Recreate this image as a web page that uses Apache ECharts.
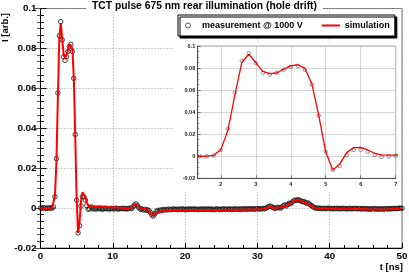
<!DOCTYPE html>
<html><head><meta charset="utf-8">
<script src="https://cdn.jsdelivr.net/npm/echarts@6/dist/echarts.min.js"></script>
<style>html,body{margin:0;padding:0;background:#fff}#c{width:409px;height:276px}</style>
</head><body><div id="c"></div>
<script>
// sampling step of the waveform in ns (samples start at t = 0)
const sampleStepNs = 0.2;
// measured current, one value per sample (t = 0 .. 50 ns)
const measurement = [
 0.0001,-0.0001,0.0002,0.0000,-0.0002,0.0001,0.0000,
 0.0000,0.0000,0.0006,0.0057,0.0248,0.0577,0.0864,0.0934,0.0843,0.0758,
 0.0740,0.0758,0.0785,0.0810,0.0820,0.0785,0.0650,0.0369,0.0040,-0.0124,
 -0.0088,0.0010,0.0057,0.0057,0.0040,0.0012,-0.0006,-0.0003,0.0006,
 -0.0004,-0.0002,-0.0005,-0.0003,0.0000,-0.0004,-0.0002,-0.0006,-0.0003,-0.0001,
 -0.0004,-0.0002,-0.0005,-0.0001,-0.0003,-0.0004,0.0000,-0.0003,-0.0005,-0.0002,
 -0.0003,-0.0001,-0.0004,-0.0002,-0.0005,-0.0002,0.0000,-0.0003,0.0006,0.0015,
 0.0021,0.0012,0.0002,-0.0006,-0.0004,-0.0009,-0.0006,-0.0011,-0.0008,-0.0013,
 -0.0022,-0.0035,-0.0040,-0.0030,-0.0018,-0.0012,-0.0015,-0.0009,-0.0012,-0.0007,
 -0.0010,-0.0006,-0.0009,-0.0005,-0.0008,-0.0006,-0.0004,-0.0007,-0.0005,-0.0008,
 -0.0005,-0.0007,-0.0004,-0.0006,-0.0008,-0.0005,-0.0007,-0.0004,-0.0006,-0.0005,
 -0.0007,-0.0004,-0.0006,-0.0008,-0.0005,-0.0006,-0.0004,-0.0007,-0.0005,-0.0006,
 -0.0004,-0.0007,-0.0005,-0.0006,-0.0008,-0.0005,-0.0004,-0.0006,-0.0007,-0.0005,
 -0.0006,-0.0004,-0.0007,-0.0005,-0.0006,-0.0004,-0.0007,-0.0005,-0.0006,-0.0004,
 -0.0005,-0.0007,-0.0004,-0.0006,-0.0005,-0.0003,-0.0006,-0.0004,-0.0005,-0.0003,
 -0.0005,-0.0003,-0.0006,-0.0004,-0.0002,-0.0005,-0.0003,-0.0004,-0.0001,-0.0003,
 0.0000,0.0004,0.0008,0.0010,0.0006,0.0002,-0.0002,0.0000,0.0004,0.0002,
 0.0000,0.0006,0.0012,0.0016,0.0011,0.0018,0.0024,0.0022,0.0030,0.0036,
 0.0040,0.0038,0.0042,0.0040,0.0036,0.0032,0.0034,0.0028,0.0024,0.0026,
 0.0020,0.0014,0.0010,0.0004,0.0001,-0.0001,0.0000,-0.0002,-0.0001,-0.0003,
 -0.0001,-0.0003,-0.0002,0.0000,-0.0003,-0.0001,-0.0004,-0.0002,-0.0003,-0.0001,
 -0.0003,-0.0002,-0.0004,-0.0001,-0.0003,-0.0002,-0.0004,-0.0003,-0.0001,-0.0004,
 -0.0002,-0.0003,-0.0001,-0.0004,-0.0002,-0.0003,-0.0005,-0.0002,-0.0004,-0.0003,
 -0.0005,-0.0003,-0.0006,-0.0004,-0.0002,-0.0005,-0.0003,-0.0006,-0.0004,-0.0005,
 -0.0003,-0.0006,-0.0004,-0.0002,-0.0005,-0.0003,-0.0004,-0.0002,-0.0003,-0.0001,
 -0.0003,-0.0002,0.0000,-0.0002,-0.0001
];
// simulated current, same sampling
const simulation = [
 0,0,0,0,0,0,0,
 0.0000,0.0001,0.0008,0.0060,0.0230,0.0550,0.0850,0.0925,0.0850,0.0770,
 0.0750,0.0755,0.0790,0.0820,0.0830,0.0800,0.0660,0.0370,0.0040,-0.0124,
 -0.0072,0.0033,0.0079,0.0080,0.0057,0.0027,0.0012,0.0010,0.0010,
 0.0010,0.0009,0.0010,0.0008,0.0009,0.0008,0.0007,0.0008,0.0006,0.0007,
 0.0006,0.0005,0.0006,0.0004,0.0005,0.0003,0.0004,0.0003,0.0002,0.0003,
 0.0002,0.0001,0.0002,0.0000,0.0001,0.0000,0.0001,0.0003,0.0010,0.0018,
 0.0022,0.0015,0.0006,-0.0002,-0.0004,-0.0003,-0.0006,-0.0005,-0.0009,-0.0014,
 -0.0025,-0.0036,-0.0042,-0.0034,-0.0022,-0.0017,-0.0019,-0.0014,-0.0016,-0.0012,
 -0.0014,-0.0011,-0.0013,-0.0010,-0.0012,-0.0011,-0.0010,-0.0012,-0.0010,-0.0011,
 -0.0009,-0.0011,-0.0010,-0.0009,-0.0011,-0.0010,-0.0009,-0.0010,-0.0011,-0.0009,
 -0.0010,-0.0009,-0.0011,-0.0010,-0.0009,-0.0010,-0.0009,-0.0011,-0.0010,-0.0009,
 -0.0010,-0.0009,-0.0010,-0.0009,-0.0010,-0.0008,-0.0009,-0.0010,-0.0009,-0.0008,
 -0.0009,-0.0008,-0.0009,-0.0010,-0.0008,-0.0009,-0.0008,-0.0009,-0.0008,-0.0008,
 -0.0009,-0.0008,-0.0007,-0.0008,-0.0009,-0.0007,-0.0008,-0.0007,-0.0008,-0.0007,
 -0.0007,-0.0006,-0.0007,-0.0006,-0.0007,-0.0005,-0.0006,-0.0005,-0.0004,-0.0003,
 -0.0001,0.0002,0.0005,0.0006,0.0004,0.0001,-0.0001,0.0000,0.0003,0.0006,
 0.0004,0.0001,0.0008,0.0014,0.0010,0.0015,0.0022,0.0020,0.0028,0.0035,
 0.0040,0.0038,0.0042,0.0039,0.0034,0.0030,0.0033,0.0026,0.0022,0.0024,
 0.0018,0.0012,0.0007,0.0003,0.0000,-0.0001,-0.0001,-0.0002,-0.0002,-0.0003,
 -0.0002,-0.0003,-0.0003,-0.0002,-0.0003,-0.0003,-0.0004,-0.0003,-0.0003,-0.0004,
 -0.0004,-0.0003,-0.0004,-0.0004,-0.0003,-0.0004,-0.0005,-0.0004,-0.0004,-0.0005,
 -0.0004,-0.0005,-0.0005,-0.0004,-0.0005,-0.0005,-0.0006,-0.0005,-0.0005,-0.0006,
 -0.0006,-0.0005,-0.0007,-0.0006,-0.0008,-0.0007,-0.0006,-0.0008,-0.0007,-0.0009,
 -0.0008,-0.0007,-0.0008,-0.0006,-0.0007,-0.0005,-0.0006,-0.0004,-0.0005,-0.0004,
 -0.0005,-0.0003,-0.0004,-0.0003,-0.0004
];
const mainXTicks = [0, 10, 20, 30, 40, 50];
const insetXTicks = [2, 3, 4, 5, 6, 7];
const seriesNames = ['measurement @ 1000 V', 'simulation'];
const titleText = 'TCT pulse 675 nm rear illumination (hole drift)';
const yTitle = 'I [arb.]';
const xTitle = 't [ns]';

const toPairs = arr => arr.map((v, i) => [+(i * sampleStepNs).toFixed(1), v]);
const measPts = toPairs(measurement);
const simPts = toPairs(simulation);

const FF = 'Liberation Sans';
const fmtY = v => String(+(+v).toFixed(3));
const chart = echarts.init(document.getElementById('c'), null, {renderer: 'canvas'});

chart.setOption({
  animation: false,
  backgroundColor: '#fff',
  title: {
    text: titleText, left: 'center', top: 0,
    padding: [1, 6, 1, 6], backgroundColor: '#fff',
    textStyle: {fontFamily: FF, fontWeight: 'bold', fontSize: 10.3, color: '#000'}
  },
  legend: {
    left: 178, top: 15, orient: 'horizontal', width: 222,
    padding: [6, 5, 6, 7], itemGap: 19, itemWidth: 18, itemHeight: 5,
    backgroundColor: '#fff', borderColor: '#000', borderWidth: 1,
    shadowColor: '#000', shadowOffsetX: 2, shadowOffsetY: 2, shadowBlur: 0,
    textStyle: {fontFamily: FF, fontWeight: 'bold', fontSize: 9, color: '#000'},
    data: [
      {name: seriesNames[0], icon: 'circle', itemStyle: {color: '#fff', borderColor: '#333', borderWidth: 1}},
      {name: seriesNames[1], icon: 'path://M0,0 L18,0 L18,2 L0,2 Z', itemStyle: {color: '#ff0000', borderWidth: 0}}
    ]
  },
  grid: [
    {left: 40.5, right: 7, top: 8.5, bottom: 28, show: true, borderColor: '#777', borderWidth: 1, backgroundColor: 'transparent', outerBoundsMode: 'none'},
    {left: 197.7, right: 13.3, top: 46, bottom: 97.7, show: true, borderColor: '#888', borderWidth: 0.8, backgroundColor: 'transparent', z: 5, outerBoundsMode: 'none'}
  ],
  graphic: [
    {type: 'rect', z: 1, shape: {x: 173, y: 42, width: 228, height: 150}, style: {fill: '#fff'}},
    {type: 'text', z: 10, x: 5, y: 27.5, rotation: Math.PI / 2,
      style: {text: yTitle, font: 'bold 9.5px "Liberation Sans"', fill: '#000', textAlign: 'center', textVerticalAlign: 'middle'}},
    {type: 'text', z: 10, x: 403, y: 267,
      style: {text: xTitle, font: 'bold 9.5px "Liberation Sans"', fill: '#000', textAlign: 'right', textVerticalAlign: 'middle'}}
  ],
  xAxis: [
    {type: 'value', gridIndex: 0, min: 0, max: 50, interval: 10,
      axisLine: {show: true, onZero: false, lineStyle: {color: '#000', width: 1}},
      axisTick: {show: true, inside: true, length: 5, lineStyle: {color: '#000'}},
      minorTick: {show: true, splitNumber: 5, length: 3, lineStyle: {color: '#000'}},
      axisLabel: {margin: 3, fontFamily: FF, fontWeight: 'bold', fontSize: 9.8, color: '#000', formatter: v => String(v)},
      splitLine: {show: true, lineStyle: {color: '#999', type: [1, 2], width: 1}},
      minorSplitLine: {show: false}},
    {type: 'value', gridIndex: 1, min: 1.34, max: 7, interval: 1, z: 5,
      axisLine: {show: true, onZero: false, lineStyle: {color: '#333', width: 0.8}},
      axisTick: {show: true, inside: true, length: 3, customValues: insetXTicks, lineStyle: {color: '#333', width: 0.6}},
      axisLabel: {margin: 3, fontFamily: FF, fontWeight: 'bold', fontSize: 5.5, color: '#222', customValues: insetXTicks, formatter: v => String(v)},
      splitLine: {show: true, lineStyle: {color: '#c4c4c4', width: 0.7, type: 'solid'}}}
  ],
  yAxis: [
    {type: 'value', gridIndex: 0, min: -0.02, max: 0.1, interval: 0.02,
      axisLine: {show: true, onZero: false, lineStyle: {color: '#000', width: 1}},
      axisTick: {show: true, inside: true, length: 6, lineStyle: {color: '#000'}},
      minorTick: {show: true, splitNumber: 6, length: 3.5, lineStyle: {color: '#000'}},
      axisLabel: {margin: 4, fontFamily: FF, fontWeight: 'bold', fontSize: 9.8, color: '#000', formatter: fmtY},
      splitLine: {show: true, lineStyle: {color: '#999', type: [1, 2], width: 1}}},
    {type: 'value', gridIndex: 0, position: 'right', min: -0.02, max: 0.1, interval: 0.02,
      axisLine: {show: false},
      axisTick: {show: true, inside: true, length: 6, lineStyle: {color: '#555'}},
      minorTick: {show: true, splitNumber: 6, length: 3.5, lineStyle: {color: '#555'}},
      axisLabel: {show: false}, splitLine: {show: false}},
    {type: 'value', gridIndex: 1, min: -0.02, max: 0.1, interval: 0.02, z: 5,
      axisLine: {show: true, onZero: false, lineStyle: {color: '#333', width: 0.8}},
      axisTick: {show: true, inside: true, length: 3, lineStyle: {color: '#333', width: 0.6}},
      minorTick: {show: true, splitNumber: 4, length: 1.5, lineStyle: {color: '#333', width: 0.5}},
      axisLabel: {margin: 2.5, fontFamily: FF, fontWeight: 'bold', fontSize: 5.5, color: '#222', formatter: fmtY},
      splitLine: {show: true, lineStyle: {color: '#c4c4c4', width: 0.7, type: 'solid'}}}
  ],
  series: [
    {name: seriesNames[0], type: 'scatter', xAxisIndex: 0, yAxisIndex: 0, z: 2,
      symbol: 'circle', symbolSize: 4.5, itemStyle: {color: 'rgba(0,0,0,0)', borderColor: '#111', borderWidth: 1}, data: measPts},
    {name: seriesNames[1], type: 'line', xAxisIndex: 0, yAxisIndex: 0, z: 3,
      symbol: 'none', lineStyle: {color: '#ff0000', width: 2}, itemStyle: {color: '#ff0000'}, data: simPts},
    {name: seriesNames[0], type: 'scatter', xAxisIndex: 1, yAxisIndex: 2, z: 6, clip: true,
      symbol: 'circle', symbolSize: 3.5, itemStyle: {color: 'rgba(0,0,0,0)', borderColor: '#444', borderWidth: 0.7}, data: measPts},
    {name: seriesNames[1], type: 'line', xAxisIndex: 1, yAxisIndex: 2, z: 7, clip: true,
      symbol: 'none', lineStyle: {color: '#ff0000', width: 1.3}, itemStyle: {color: '#ff0000'}, data: simPts}
  ]
});
</script></body></html>
